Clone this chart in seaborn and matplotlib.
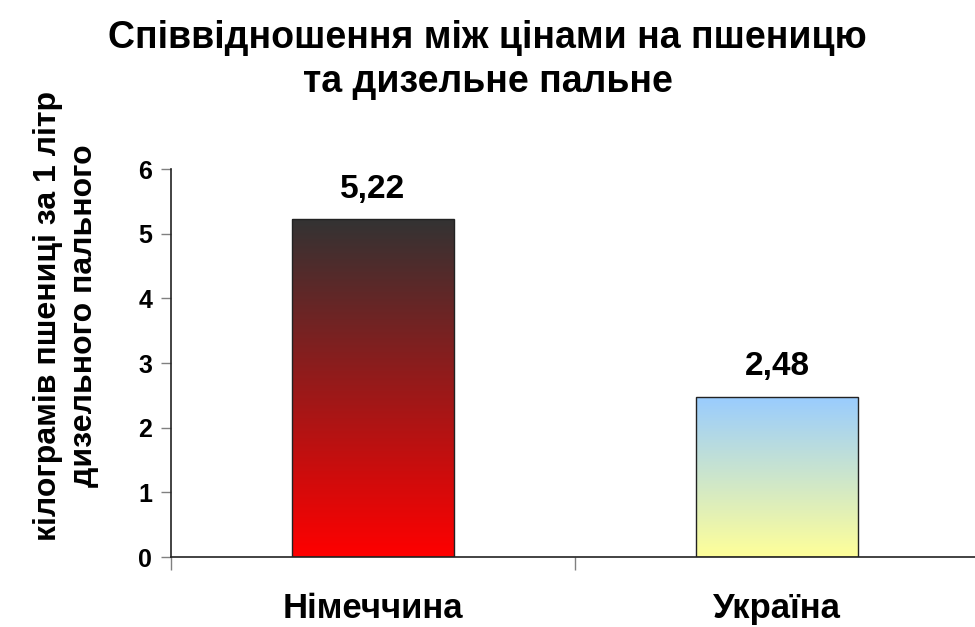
import numpy as np
import matplotlib
matplotlib.use("Agg")
import matplotlib.pyplot as plt
from matplotlib.colors import LinearSegmentedColormap
import seaborn as sns

sns.set_style("white")
plt.rcParams["font.family"] = ["Liberation Sans", "DejaVu Sans"]
plt.rcParams["text.color"] = "black"
plt.rcParams["xtick.labelcolor"] = "black"
plt.rcParams["ytick.labelcolor"] = "black"

# Data
countries = ["Німеччина", "Україна"]
values = [5.22, 2.48]
value_labels = ["5,22", "2,48"]
# gradient colours (bottom, top) per bar
gradients = [("#FF0000", "#333333"), ("#FFFF99", "#99CCFF")]
y_ticks = [0, 1, 2, 3, 4, 5, 6]

title = "Співвідношення між цінами на пшеницю\nта дизельне пальне"
ylabel = "кілограмів пшениці за 1 літр\nдизельного пального"

fig = plt.figure(figsize=(9.75, 6.27), dpi=100)
ax = fig.add_axes([0.1754, 0.1116, 0.8287, 0.6188])

sns.barplot(x=countries, y=values, ax=ax, width=0.4,
            edgecolor="#222222", linewidth=1.0)

# Gradient fill clipped to each bar
grad = np.linspace(0, 1, 256).reshape(-1, 1)
for patch, (c0, c1) in zip(ax.patches, gradients):
    x0, y0 = patch.get_x(), patch.get_y()
    w, h = patch.get_width(), patch.get_height()
    cmap = LinearSegmentedColormap.from_list("g", [c0, c1])
    im = ax.imshow(grad, cmap=cmap, origin="lower", aspect="auto",
                   extent=(x0, x0 + w, y0, y0 + h), zorder=patch.get_zorder() - 0.1)
    im.set_clip_path(patch)
    patch.set_facecolor("none")

# Value labels
for i, (v, lab) in enumerate(zip(values, value_labels)):
    ax.text(i, v + 0.33, lab, ha="center", va="baseline",
            fontsize=24, fontweight="bold")

ax.set_xlim(-0.5, 1.5)
ax.set_ylim(0, 6)
ax.set_yticks(y_ticks)
ax.tick_params(axis="y", direction="out", length=7.5, width=1.0,
               color="#808080", labelsize=18, pad=6, left=True)
for t in ax.get_yticklabels():
    t.set_fontweight("bold")

# Category separators as major ticks, labels on minor ticks
ax.set_xticks([-0.5, 0.5, 1.5])
ax.set_xticklabels([])
ax.set_xticks([0, 1], minor=True)
ax.set_xticklabels(countries, minor=True)
ax.tick_params(axis="x", which="major", direction="out", length=9,
               width=1.0, color="#808080", bottom=True)
ax.tick_params(axis="x", which="minor", length=0, labelsize=25, pad=25)
for t in ax.get_xticklabels(minor=True):
    t.set_fontweight("bold")

ax.set_xlabel("")
ax.set_ylabel("")
sns.despine(ax=ax)
for s in ["left", "bottom"]:
    ax.spines[s].set_color("#222222")
    ax.spines[s].set_linewidth(1.2)

fig.text(0.5, 1 - 60 / 627, title, ha="center", va="center",
         fontsize=27, fontweight="bold", linespacing=1.25)
fig.text(66 / 975, 1 - 316 / 627, ylabel, ha="center", va="center",
         rotation=90, fontsize=23, fontweight="bold", linespacing=1.25)

fig.savefig("out.png", dpi=100)
